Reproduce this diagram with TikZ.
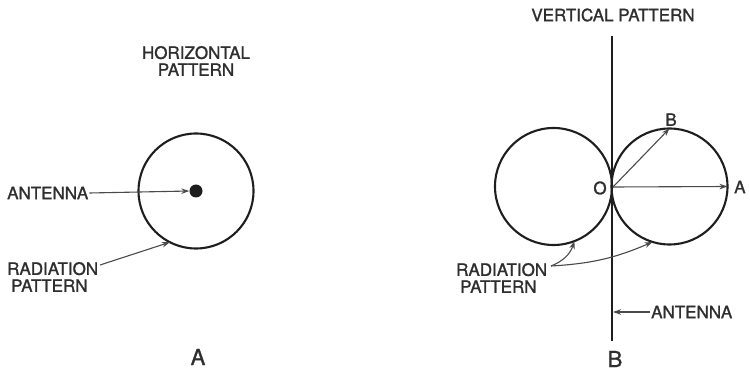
\documentclass[tikz,border=0pt]{standalone}
\usepackage{fontspec}
\setmainfont{TeX Gyre Heros}[BoldFont={TeX Gyre Heros}, BoldFeatures={FakeBold=1.3}]
\usetikzlibrary{arrows.meta,calc}
\definecolor{ink}{HTML}{1E1E1E}
\definecolor{txt}{HTML}{2E2E2E}
\definecolor{arr}{HTML}{4A4A4A}
\begin{document}
\begin{tikzpicture}[x=1pt,y=-1pt,
  lbl/.style={font=\bfseries\fontsize{17}{20}\selectfont, text=txt, inner sep=1pt, align=center},
  big/.style={font=\bfseries\fontsize{22}{24}\selectfont, text=txt, inner sep=0pt},
  pat/.style={circle, draw=ink, line width=2.1pt, minimum size=#1, inner sep=0pt, outer sep=0pt},
  ptr/.style={draw=arr, line width=1.1pt, -{Stealth[length=8pt,width=5.5pt]}}]
\useasboundingbox (0,0) rectangle (750,374);
% ---- panel A ----
\node[lbl] (htitle) at (196,61) {HORIZONTAL\\[-3pt]PATTERN};
\node[pat=115pt] (ca) at (196,191) {};
\node[circle, fill=ink, minimum size=13pt, inner sep=0pt] (dot) at (196,191) {};
\node[lbl, anchor=west] (antA) at (6,193) {ANTENNA};
\node[lbl, anchor=west, align=left] (radA) at (6,277) {RADIATION\\[-3pt]\hspace*{4pt}PATTERN};
\coordinate (ra) at (100,265);
\draw[ptr] (antA.east) -- (dot.west);
\draw[ptr] (ra) -- (ca.-117);
\node[big] (labA) at (198,357) {A};
% ---- panel B ----
\node[lbl] (vtitle) at (613,15) {VERTICAL PATTERN};
\coordinate (top) at (612,36);
\coordinate (bot) at (612,341);
\draw[ink, line width=2.2pt] (top) -- (bot);
\node[pat=117pt] (cl) at (553.5,186.5) {};
\node[pat=116pt] (cr) at (669.5,186.5) {};
\coordinate (O) at (613,187);
\node[lbl] (olab) at (600,188) {O};
\node[lbl, anchor=west] (alab) at (733,187) {A};
\node[lbl, anchor=south] (blab) at (671,127) {B};
\draw[ptr] (O) -- (cr.east);
\draw[ptr] (O) -- (cr.north);
\node[lbl, anchor=west, align=left] (radB) at (455,278) {RADIATION\\[-3pt]\hspace*{4pt}PATTERN};
\coordinate (rs) at (551,266);
\draw[ptr] (rs) to[bend right=25] (cl.-69);
\draw[ptr] (rs) to[bend right=10] (cr.-107);
\coordinate (ap) at (613,312);
\node[lbl, anchor=west] (antB) at (650,312) {ANTENNA};
\draw[ptr] (antB.west) -- (ap);
\node[big] (labB) at (615,359) {B};
\end{tikzpicture}
\end{document}
